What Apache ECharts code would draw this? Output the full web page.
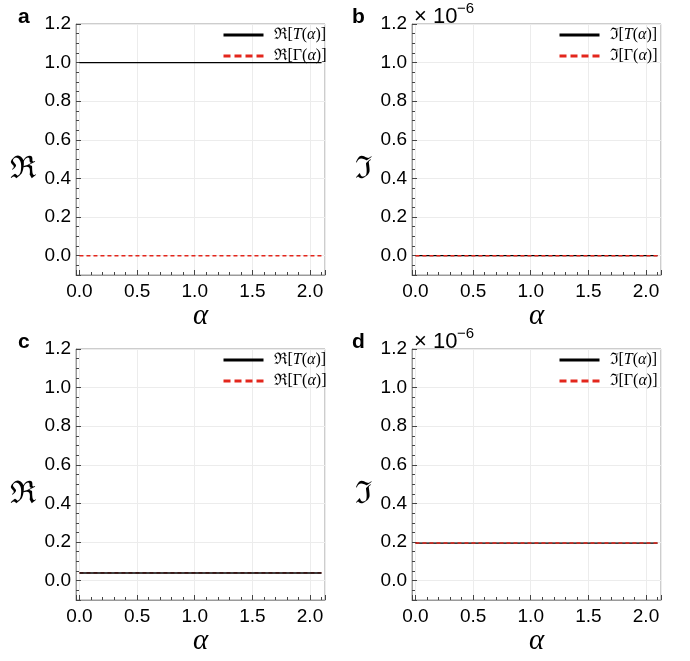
<!DOCTYPE html>
<html>
<head>
<meta charset="utf-8">
<script src="https://cdn.jsdelivr.net/npm/echarts@6/dist/echarts.min.js"></script>
<style>
  html, body { margin: 0; padding: 0; background: #fff; }
  #chart { width: 690px; height: 661px; }
</style>
</head>
<body>
<div id="chart"></div>
<script>
// alpha samples (x axis)
var alpha = [0, 0.5, 1.0, 1.5, 2.0, 2.1]

// panel a: real parts
var reT_a = [1.0, 1.0, 1.0, 1.0, 1.0, 1.0]
var reG_a = [0.0, 0.0, 0.0, 0.0, 0.0, 0.0]
// panel b: imaginary parts (units of 1e-6)
var imT_b = [0.0, 0.0, 0.0, 0.0, 0.0, 0.0]
var imG_b = [0.0, 0.0, 0.0, 0.0, 0.0, 0.0]
// panel c: real parts
var reT_c = [0.04, 0.04, 0.04, 0.04, 0.04, 0.04]
var reG_c = [0.04, 0.04, 0.04, 0.04, 0.04, 0.04]
// panel d: imaginary parts (units of 1e-6)
var imT_d = [0.195, 0.195, 0.195, 0.195, 0.195, 0.195]
var imG_d = [0.195, 0.195, 0.195, 0.195, 0.195, 0.195]

var panelLabels = ['a', 'b', 'c', 'd']
var yTitles = ['\u211C', '\u2111', '\u211C', '\u2111']
var legendText = {
  ReT: '{f|\u211C}{n|[}{i|T}{n|(}{i|\u03B1}{n|)]}',
  ReG: '{f|\u211C}{n|[\u0393(}{i|\u03B1}{n|)]}',
  ImT: '{f|\u2111}{n|[}{i|T}{n|(}{i|\u03B1}{n|)]}',
  ImG: '{f|\u2111}{n|[\u0393(}{i|\u03B1}{n|)]}'
}

var RED = '#e3261c'
var SANS = "'Liberation Sans', Arial, sans-serif"
var SERIF = "'Liberation Serif', 'DejaVu Serif', serif"

var boxes = [
  { left: 76, top: 24 },
  { left: 412, top: 24 },
  { left: 76, top: 349 },
  { left: 412, top: 349 }
]
var W = 249, H = 251

var chart = echarts.init(document.getElementById('chart'), null, { renderer: 'canvas' })

var grids = [], xAxes = [], yAxes = [], titles = [], legends = [], series = []

function pairs(vals) {
  return alpha.map(function (a, k) { return [a, vals[k]] })
}

var panelData = [
  { t: reT_a, g: reG_a, names: ['ReT', 'ReG'], redOnTop: true },
  { t: imT_b, g: imG_b, names: ['ImT', 'ImG'], redOnTop: true },
  { t: reT_c, g: reG_c, names: ['ReT', 'ReG'], redOnTop: false },
  { t: imT_d, g: imG_d, names: ['ImT', 'ImG'], redOnTop: true }
]

boxes.forEach(function (b, i) {
  grids.push({
    left: b.left, top: b.top, width: W, height: H,
    show: true, borderColor: '#9a9a9a', borderWidth: 1, backgroundColor: 'transparent'
  })
  xAxes.push({
    gridIndex: i, type: 'value', min: -0.03, max: 2.13, splitNumber: 4,
    axisLine: { show: true, onZero: false, lineStyle: { color: '#9a9a9a' } },
    axisTick: { show: true, inside: true, length: 5, lineStyle: { color: '#444' } },
    minorTick: { show: true, splitNumber: 5, length: 3, lineStyle: { color: '#444' } },
    splitLine: { show: true, lineStyle: { color: '#ececec' } },
    axisLabel: {
      showMinLabel: false, showMaxLabel: false, margin: 7,
      fontSize: 19, color: '#000', fontFamily: SANS,
      formatter: function (v) { return v.toFixed(1) }
    },
    name: '\u03B1', nameLocation: 'middle', nameGap: 21,
    nameTextStyle: { fontSize: 29, fontStyle: 'italic', fontFamily: SERIF, color: '#000' }
  })
  yAxes.push({
    gridIndex: i, type: 'value', min: -0.1, max: 1.2, splitNumber: 6,
    axisLine: { show: true, onZero: false, lineStyle: { color: '#9a9a9a' } },
    axisTick: { show: true, inside: true, length: 5, lineStyle: { color: '#444' } },
    minorTick: { show: true, splitNumber: 4, length: 3, lineStyle: { color: '#444' } },
    splitLine: { show: true, lineStyle: { color: '#ececec' } },
    axisLabel: {
      showMinLabel: false, margin: 5,
      fontSize: 19, color: '#000', fontFamily: SANS,
      formatter: function (v) { return v.toFixed(1) }
    },
    name: yTitles[i], nameLocation: 'middle', nameRotate: 0, nameGap: 40,
    nameTextStyle: { fontSize: 31, fontFamily: SERIF, color: '#000', verticalAlign: 'top', lineHeight: 40 }
  })
  titles.push({
    text: panelLabels[i], left: b.left - 63 + (i % 2 ? -2 : 0), top: b.top - 22,
    textStyle: { fontSize: 21, fontWeight: 'bold', fontFamily: SANS, color: '#000' }
  })

  var p = panelData[i]
  var tSeries = {
    name: p.names[0], type: 'line', xAxisIndex: i, yAxisIndex: i,
    data: pairs(p.t), symbol: 'none', showSymbol: false, z: p.redOnTop ? 2 : 3,
    lineStyle: { color: '#000', width: p.redOnTop ? 1.3 : 1.6 }, itemStyle: { color: '#000' }
  }
  var gSeries = {
    name: p.names[1], type: 'line', xAxisIndex: i, yAxisIndex: i,
    data: pairs(p.g), symbol: 'none', showSymbol: false, z: p.redOnTop ? 3 : 2,
    lineStyle: { color: RED, width: p.redOnTop ? 1.5 : 1.2, type: [4, 3] }, itemStyle: { color: RED }
  }
  series.push(tSeries, gSeries)

  legends.push({
    orient: 'vertical', left: b.left + 146, top: b.top + 3,
    padding: 0, itemGap: 5, itemWidth: 40, itemHeight: 14,
    selectedMode: false,
    data: [
      { name: p.names[0], itemStyle: { opacity: 0 }, lineStyle: { width: 3, color: '#000' } },
      { name: p.names[1], itemStyle: { opacity: 0 }, lineStyle: { width: 3, color: RED, type: [7, 4] } }
    ],
    formatter: function (name) { return legendText[name] },
    textStyle: {
      padding: [0, 0, 0, 5],
      rich: {
        f: { fontSize: 16, fontFamily: "'DejaVu Serif', serif", color: '#000' },
        n: { fontSize: 16, fontFamily: SERIF, color: '#000' },
        i: { fontSize: 16, fontFamily: SERIF, fontStyle: 'italic', color: '#000' }
      }
    }
  })
})

// "x 10^-6" scale markers for panels b and d
var graphics = []
;[boxes[1], boxes[3]].forEach(function (b) {
  graphics.push({
    type: 'text', left: b.left + 2, top: b.top - 18,
    style: { text: '\u00D7 10', fontSize: 22, fontFamily: SANS, fill: '#000' }
  })
  graphics.push({
    type: 'text', left: b.left + 45, top: b.top - 23,
    style: { text: '\u22126', fontSize: 15, fontFamily: SANS, fill: '#000' }
  })
})

chart.setOption({
  animation: false,
  backgroundColor: '#fff',
  title: titles,
  grid: grids,
  xAxis: xAxes,
  yAxis: yAxes,
  legend: legends,
  graphic: graphics,
  series: series
})
</script>
</body>
</html>
